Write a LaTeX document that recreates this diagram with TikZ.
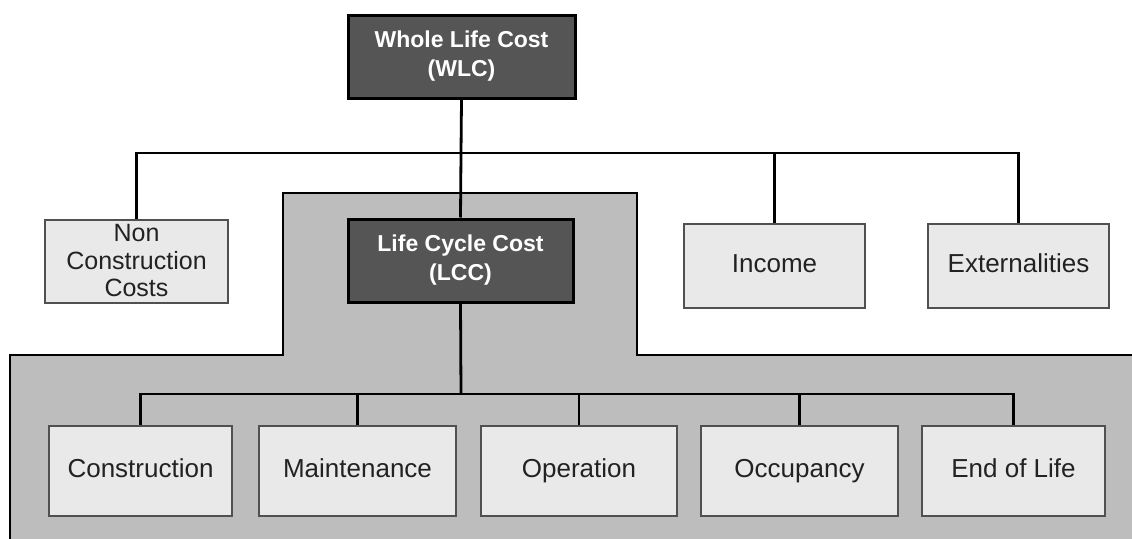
\documentclass[tikz,border=0pt]{standalone}
\usepackage{fontspec}
\setmainfont{Liberation Sans}
\begin{document}
\begin{tikzpicture}[x=1pt,y=-1pt,
  darkbox/.style={draw=black,line width=3pt,fill=darkfill,text=white,
    font=\fontsize{23}{29}\selectfont\bfseries,align=center,inner sep=0pt},
  lightbox/.style={draw=boxline,line width=2pt,fill=lightfill,text=textcol,
    font=\fontsize{26}{28}\selectfont,align=center,inner sep=0pt},
  oneline/.style={lightbox,text height=19pt,text depth=5.5pt},
  conn/.style={draw=black,line width=2.8pt}]
\definecolor{darkfill}{HTML}{555555}
\definecolor{lightfill}{HTML}{E9E9E9}
\definecolor{boxline}{HTML}{505050}
\definecolor{regionfill}{HTML}{BDBDBD}
\definecolor{textcol}{HTML}{222222}
\useasboundingbox (0,0) rectangle (1132,538);
% gray region
\fill[regionfill] (10,540) -- (10,355) -- (283,355) -- (283,193) -- (637,193) -- (637,355) -- (1134,355) -- (1134,540) -- cycle;
\draw[black,line width=2.5pt] (10,540) -- (10,355) -- (283,355) -- (283,193) -- (637,193) -- (637,355) -- (1134,355);
% nodes
\node[darkbox,minimum width=227pt,minimum height=83pt] (wlc) at (461.5,56.5) {Whole Life Cost\\(WLC)};
\node[darkbox,minimum width=225pt,minimum height=83pt] (lcc) at (460.5,260.5) {Life Cycle Cost\\(LCC)};
\node[lightbox,minimum width=183pt,minimum height=83pt,font=\fontsize{25}{27.5}\selectfont] (ncc) at (136.5,261) {Non\\Construction\\Costs};
\node[oneline,minimum width=181pt,minimum height=84pt] (inc) at (774.5,266) {Income};
\node[oneline,minimum width=181pt,minimum height=84pt] (ext) at (1018.5,266) {Externalities};
\node[oneline,minimum width=183pt,minimum height=90pt] (con) at (140.5,471) {Construction};
\node[oneline,minimum width=197pt,minimum height=90pt] (mai) at (357.5,471) {Maintenance};
\node[oneline,minimum width=196pt,minimum height=90pt] (ope) at (579,471) {Operation};
\node[oneline,minimum width=197pt,minimum height=90pt] (occ) at (799.5,471) {Occupancy};
\node[oneline,minimum width=183pt,minimum height=90pt] (eol) at (1013.5,471) {End of Life};
% connectors
\coordinate (top) at (461,153);
\coordinate (bot) at (461,394);
\draw[conn] (wlc.south) -- (top);
\draw[conn] (top) -- (lcc.north);
\draw[conn] (ncc.north) |- (top) -| (ext.north);
\draw[conn] (inc.north) -- (inc.north |- top);
\draw[conn] (lcc.south) -- (bot);
\draw[conn] (con.north) |- (bot) -| (eol.north);
\draw[conn] (mai.north) -- (mai.north |- bot);
\draw[conn] (ope.north) -- (ope.north |- bot);
\draw[conn] (occ.north) -- (occ.north |- bot);
\end{tikzpicture}
\end{document}
